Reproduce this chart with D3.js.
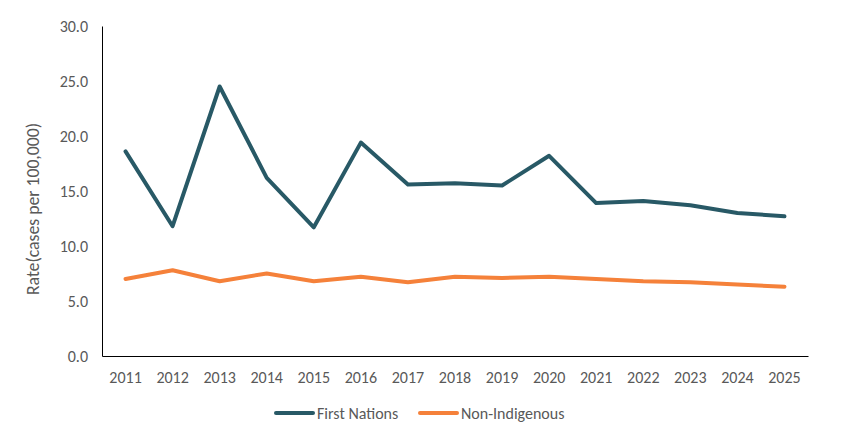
<!DOCTYPE html>
<html>
<head>
<meta charset="utf-8">
<script src="https://cdn.jsdelivr.net/npm/d3@7"></script>
<style>
  body { margin: 0; background: #fff; }
  text { font-family: Carlito, Calibri, "Open Sans", sans-serif; fill: #595959; }
</style>
</head>
<body>
<div id="chart"></div>
<script>
const years = ["2011","2012","2013","2014","2015","2016","2017","2018","2019","2020","2021","2022","2023","2024","2025"];
const firstNations = [18.6, 11.8, 24.5, 16.2, 11.7, 19.4, 15.6, 15.7, 15.5, 18.2, 13.9, 14.1, 13.7, 13.0, 12.7];
const nonIndigenous = [7.0, 7.8, 6.8, 7.5, 6.8, 7.2, 6.7, 7.2, 7.1, 7.2, 7.0, 6.8, 6.7, 6.5, 6.3];
const yTicks = [0, 5, 10, 15, 20, 25, 30];

const W = 846, H = 437;
const margin = { top: 26, right: 38, bottom: 81, left: 102 };
const width = W - margin.left - margin.right,
  height = H - margin.top - margin.bottom;

const svg = d3.select("#chart").append("svg")
  .attr("width", W).attr("height", H);
const g = svg.append("g")
  .attr("transform", "translate(" + margin.left + "," + margin.top + ")");

const x = d3.scaleBand().domain(years).range([0, width]);
const y = d3.scaleLinear().domain([0, 30]).range([height, 0]);

// y axis
const yAxis = g.append("g")
  .call(d3.axisLeft(y).tickValues(yTicks).tickSize(0).tickPadding(14).tickFormat(d3.format(".1f")));
yAxis.select(".domain").attr("stroke", "#000");
yAxis.selectAll("text").style("font-size", "16px");

// x axis
const xAxis = g.append("g")
  .attr("transform", "translate(0," + height + ")")
  .call(d3.axisBottom(x).tickSize(0).tickPadding(16));
xAxis.select(".domain").attr("stroke", "#000");
xAxis.selectAll("text").style("font-size", "16px");

svg.append("text")
  .attr("transform", "translate(33,209) rotate(-90)")
  .attr("text-anchor", "middle")
  .attr("dy", "0.35em")
  .style("font-size", "17.7px")
  .text("Rate(cases per 100,000)");

const series = [
  { name: "First Nations", values: firstNations, color: "#285966" },
  { name: "Non-Indigenous", values: nonIndigenous, color: "#F5813A" }
];

const line = d3.line()
  .x((d, i) => x(years[i]) + x.bandwidth() / 2)
  .y(d => y(d));

series.forEach(s => {
  g.append("path")
    .datum(s.values)
    .attr("fill", "none")
    .attr("stroke", s.color)
    .attr("stroke-width", 4)
    .attr("stroke-linejoin", "round")
    .attr("stroke-linecap", "round")
    .attr("d", line);
});

// legend
const legendX = [276, 420];
series.forEach((s, i) => {
  const lg = svg.append("g").attr("transform", "translate(" + legendX[i] + ",413)");
  lg.append("line").attr("x1", 0).attr("x2", 37)
    .attr("stroke", s.color).attr("stroke-width", 4).attr("stroke-linecap", "round");
  lg.append("text").attr("x", 41).attr("dy", "0.35em")
    .style("font-size", "16px").text(s.name);
});
</script>
</body>
</html>
